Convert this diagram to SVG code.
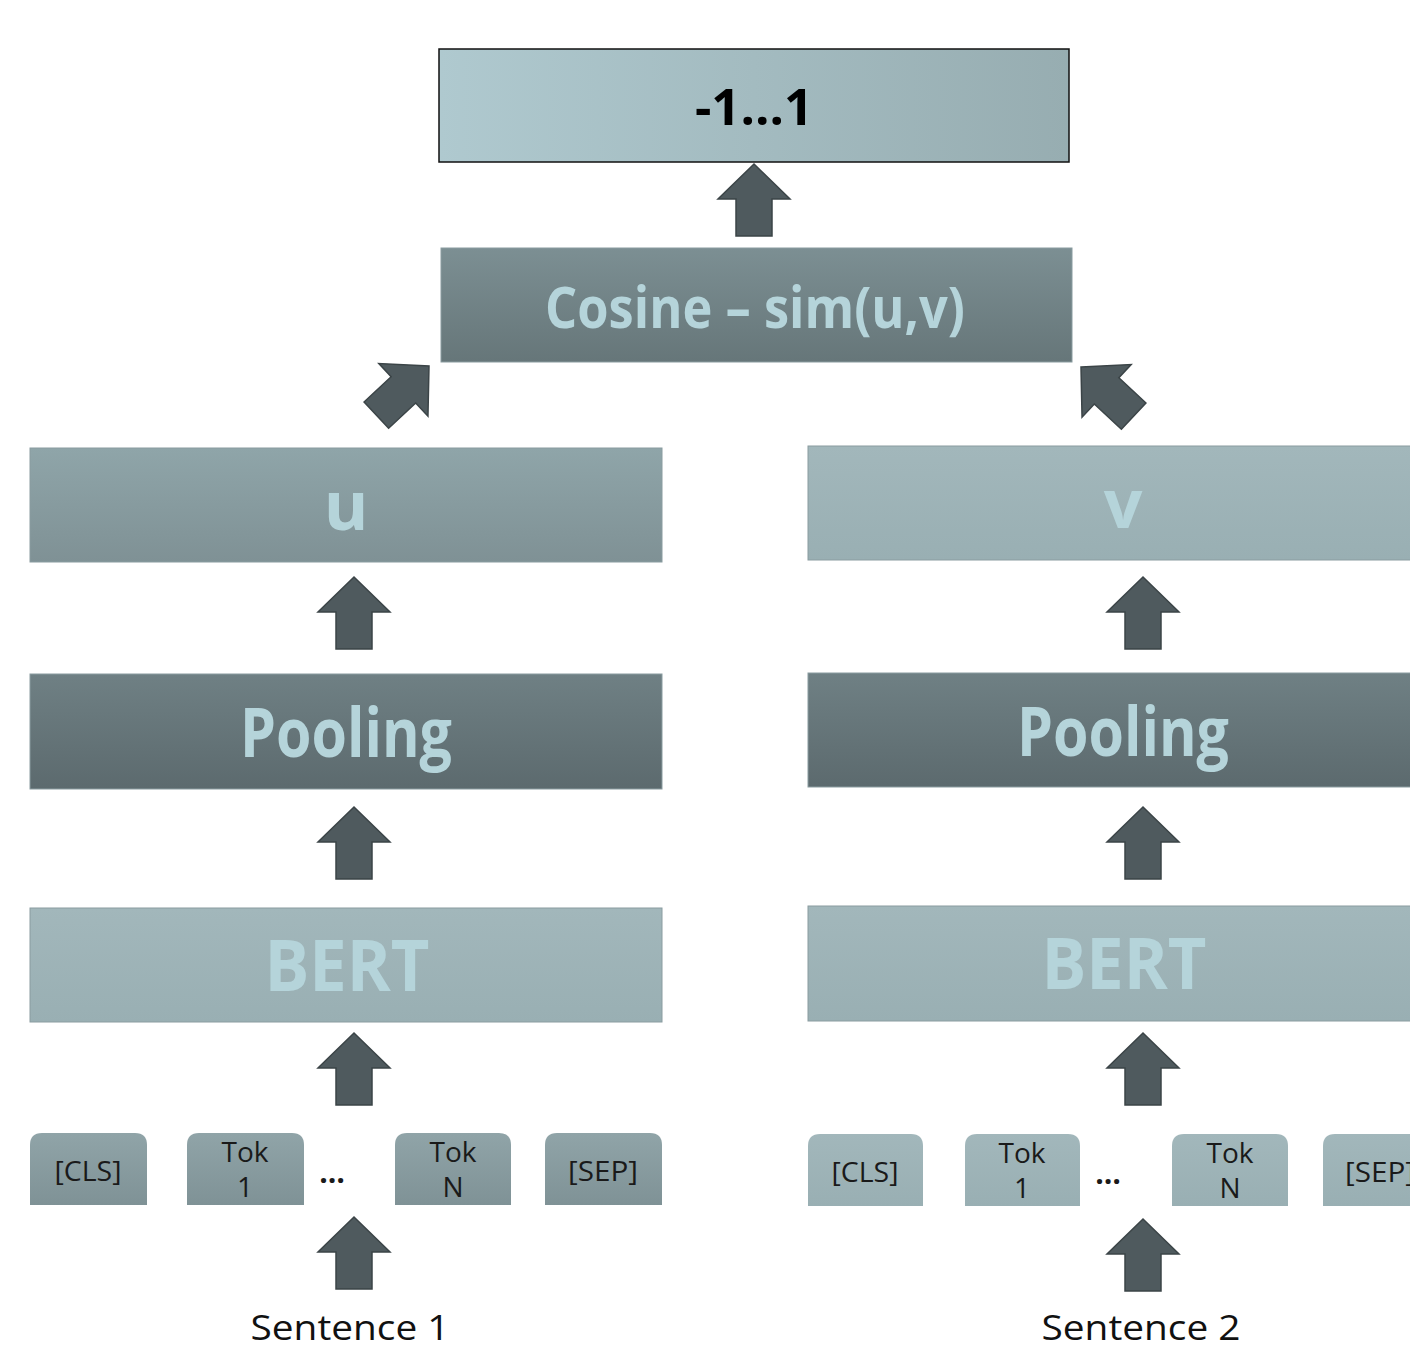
<svg xmlns="http://www.w3.org/2000/svg" xmlns:xlink="http://www.w3.org/1999/xlink" width="1410" height="1350" viewBox="0 0 1410 1350">
<defs>
<linearGradient id="gTop" x1="0" y1="0" x2="1" y2="0"><stop offset="0" stop-color="#afc9cf"/><stop offset="1" stop-color="#97adb1"/></linearGradient>
<linearGradient id="gCos" x1="0" y1="0" x2="0" y2="1"><stop offset="0" stop-color="#7c8f93"/><stop offset="1" stop-color="#667679"/></linearGradient>
<linearGradient id="gU" x1="0" y1="0" x2="0" y2="1"><stop offset="0" stop-color="#8fa5a9"/><stop offset="1" stop-color="#7f9195"/></linearGradient>
<linearGradient id="gPool" x1="0" y1="0" x2="0" y2="1"><stop offset="0" stop-color="#6f8084"/><stop offset="1" stop-color="#5c6a6e"/></linearGradient>
<linearGradient id="gLight" x1="0" y1="0" x2="0" y2="1"><stop offset="0" stop-color="#a2b7bb"/><stop offset="1" stop-color="#99afb3"/></linearGradient>
<linearGradient id="gTokL" x1="0" y1="0" x2="0" y2="1"><stop offset="0" stop-color="#90a4a8"/><stop offset="1" stop-color="#7f9296"/></linearGradient>
<path id="arrow" d="M0,0 L36,35 L18,35 L18,72 L-18,72 L-18,35 L-36,35 Z"/>
</defs>
<style>
.arr{fill:#4f5a5e;stroke:#3b4447;stroke-width:1.5}
.big{font-family:"Open Sans","Noto Sans",sans-serif;font-weight:bold;fill:#b5d4da;text-anchor:middle}
.tok{font-family:"Open Sans","Noto Sans",sans-serif;font-size:28px;fill:#1a1a1a;text-anchor:middle}
.dots{font-family:"Open Sans","Noto Sans",sans-serif;font-size:30px;font-weight:bold;fill:#1a1a1a;text-anchor:middle}
.sent{font-family:"Open Sans","Noto Sans",sans-serif;font-size:35px;fill:#111;text-anchor:middle}
.edge{stroke:#8a9ca0;stroke-width:1}
</style>
<rect width="1410" height="1350" fill="#fff"/>

<g id="result">
<rect x="439" y="49" width="630" height="113" fill="url(#gTop)" stroke="#111" stroke-width="1.5"/>
<text x="754" y="125" font-family="'Open Sans','Noto Sans',sans-serif" font-weight="bold" font-size="50" fill="#000" text-anchor="middle" textLength="118" lengthAdjust="spacingAndGlyphs">-1…1</text>
</g>
<g id="cosine">
<rect x="441" y="248" width="631" height="114" fill="url(#gCos)" class="edge"/>
<text class="big" x="755" y="328" font-size="58" textLength="420" lengthAdjust="spacingAndGlyphs">Cosine – sim(u,v)</text>
</g>
<g id="u">
<rect x="30" y="448" width="632" height="114" fill="url(#gU)" class="edge"/>
<text class="big" x="346" y="530" font-size="68">u</text>
</g>
<g id="v">
<rect x="808" y="446" width="632" height="114" fill="url(#gLight)" class="edge"/>
<text class="big" x="1123" y="528" font-size="68">v</text>
</g>
<g id="pooling1">
<rect x="30" y="674" width="632" height="115" fill="url(#gPool)" class="edge"/>
<text class="big" x="346" y="757" font-size="68" textLength="212" lengthAdjust="spacingAndGlyphs">Pooling</text>
</g>
<g id="pooling2">
<rect x="808" y="673" width="632" height="114" fill="url(#gPool)" class="edge"/>
<text class="big" x="1123" y="756" font-size="68" textLength="212" lengthAdjust="spacingAndGlyphs">Pooling</text>
</g>
<g id="bert1">
<rect x="30" y="908" width="632" height="114" fill="url(#gLight)" class="edge"/>
<text class="big" x="347" y="991" font-size="72" textLength="165" lengthAdjust="spacingAndGlyphs">BERT</text>
</g>
<g id="bert2">
<rect x="808" y="906" width="632" height="115" fill="url(#gLight)" class="edge"/>
<text class="big" x="1124" y="989" font-size="72" textLength="165" lengthAdjust="spacingAndGlyphs">BERT</text>
</g>

<g id="tokens1">
<path d="M30,1205 V1145 Q30,1133 42,1133 H135 Q147,1133 147,1145 V1205 Z" fill="url(#gTokL)"/>
<text class="tok" x="88" y="1181" textLength="67" lengthAdjust="spacingAndGlyphs">[CLS]</text>
<path d="M187,1205 V1145 Q187,1133 199,1133 H292 Q304,1133 304,1145 V1205 Z" fill="url(#gTokL)"/>
<text class="tok" x="245" y="1162">Tok</text>
<text class="tok" x="245" y="1197">1</text>
<text class="dots" x="332" y="1183">…</text>
<path d="M395,1205 V1145 Q395,1133 407,1133 H499 Q511,1133 511,1145 V1205 Z" fill="url(#gTokL)"/>
<text class="tok" x="453" y="1162">Tok</text>
<text class="tok" x="453" y="1197">N</text>
<path d="M545,1205 V1145 Q545,1133 557,1133 H650 Q662,1133 662,1145 V1205 Z" fill="url(#gTokL)"/>
<text class="tok" x="603" y="1181" textLength="70" lengthAdjust="spacingAndGlyphs">[SEP]</text>
</g>
<g id="tokens2">
<path d="M808,1206 V1146 Q808,1134 820,1134 H911 Q923,1134 923,1146 V1206 Z" fill="url(#gLight)"/>
<text class="tok" x="865" y="1182" textLength="67" lengthAdjust="spacingAndGlyphs">[CLS]</text>
<path d="M965,1206 V1146 Q965,1134 977,1134 H1068 Q1080,1134 1080,1146 V1206 Z" fill="url(#gLight)"/>
<text class="tok" x="1022" y="1163">Tok</text>
<text class="tok" x="1022" y="1198">1</text>
<text class="dots" x="1108" y="1184">…</text>
<path d="M1172,1206 V1146 Q1172,1134 1184,1134 H1276 Q1288,1134 1288,1146 V1206 Z" fill="url(#gLight)"/>
<text class="tok" x="1230" y="1163">Tok</text>
<text class="tok" x="1230" y="1198">N</text>
<path d="M1323,1206 V1146 Q1323,1134 1335,1134 H1428 Q1440,1134 1440,1146 V1206 Z" fill="url(#gLight)"/>
<text class="tok" x="1380" y="1182" textLength="70" lengthAdjust="spacingAndGlyphs">[SEP]</text>
</g>

<g id="sentence1"><text class="sent" x="350" y="1340" textLength="199" lengthAdjust="spacingAndGlyphs">Sentence 1</text></g>
<g id="sentence2"><text class="sent" x="1141" y="1340" textLength="199" lengthAdjust="spacingAndGlyphs">Sentence 2</text></g>

<g id="connectors">
<use xlink:href="#arrow" class="arr" transform="translate(754,164)"/>
<use xlink:href="#arrow" class="arr" transform="translate(429,366) rotate(47)"/>
<use xlink:href="#arrow" class="arr" transform="translate(1081,367) rotate(-47)"/>
<use xlink:href="#arrow" class="arr" transform="translate(354,577)"/>
<use xlink:href="#arrow" class="arr" transform="translate(354,807)"/>
<use xlink:href="#arrow" class="arr" transform="translate(354,1033)"/>
<use xlink:href="#arrow" class="arr" transform="translate(354,1217)"/>
<use xlink:href="#arrow" class="arr" transform="translate(1143,577)"/>
<use xlink:href="#arrow" class="arr" transform="translate(1143,807)"/>
<use xlink:href="#arrow" class="arr" transform="translate(1143,1033)"/>
<use xlink:href="#arrow" class="arr" transform="translate(1143,1219)"/>
</g>
</svg>
